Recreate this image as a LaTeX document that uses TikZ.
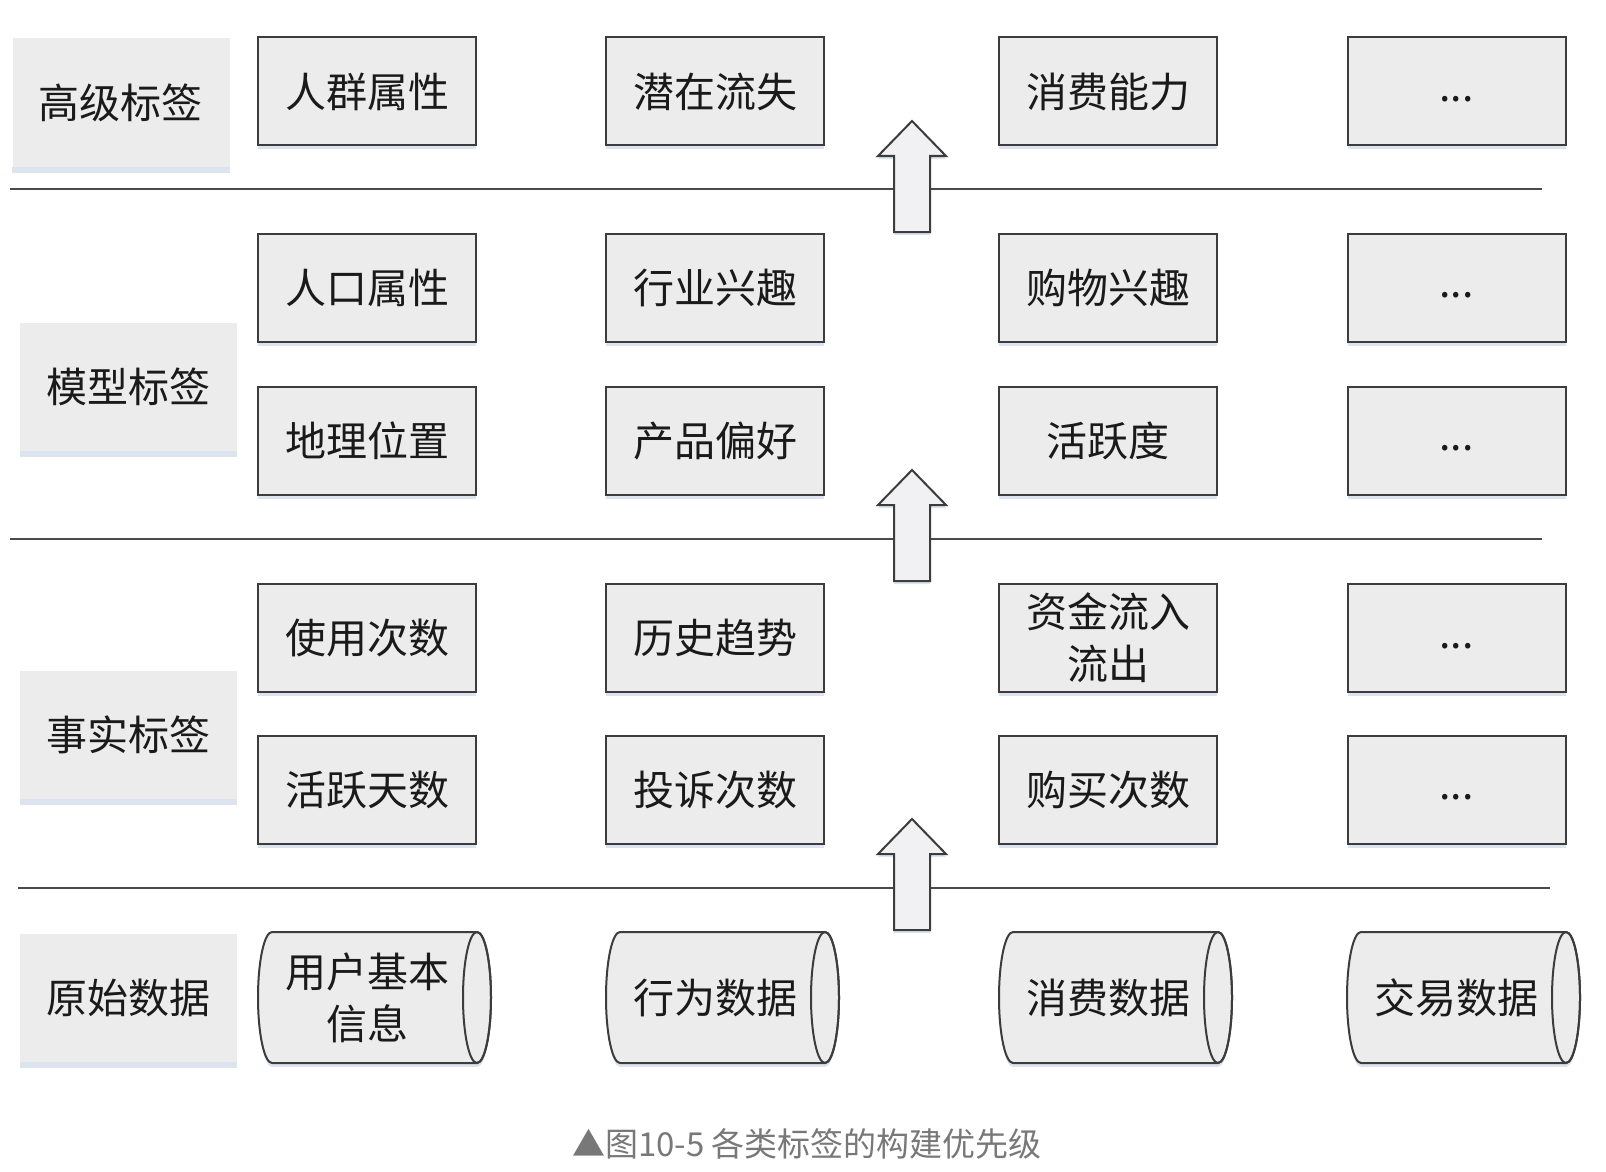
\documentclass[tikz,border=0pt]{standalone}
\usepackage{fontspec}
\setmainfont{Noto Sans CJK SC}
\usepackage{xcolor}
\usepackage{tikz}
\usetikzlibrary{shadows}
\definecolor{BoxFill} {HTML}{ECECEC}
\definecolor{BoxLine} {HTML}{3C3C3C}
\definecolor{Glow}    {HTML}{DCE5EF}
\definecolor{Rule}    {HTML}{4A4A4A}
\definecolor{ArrowBg} {HTML}{F1F1F3}
\definecolor{Caption} {HTML}{787878}
\definecolor{Ink}     {HTML}{1A1A1A}

\tikzset{
  tagbox/.style={draw=BoxLine, line width=1pt, fill=BoxFill,
        minimum width=109pt, minimum height=54pt, inner sep=0pt,
        font=\fontsize{20.5}{26}\selectfont, text=Ink, align=center,
        drop shadow={shadow xshift=0pt, shadow yshift=-2pt, fill=Glow, opacity=1}},
  levelbox/.style={fill=BoxFill, minimum width=108.5pt, minimum height=64pt,
        inner sep=0pt, font=\fontsize{20.5}{26}\selectfont, text=Ink},
  cyltext/.style={inner sep=0pt, font=\fontsize{20.5}{26}\selectfont,
        text=Ink, align=center},
  cylbody/.style={draw=BoxLine, line width=1pt, fill=BoxFill,
        drop shadow={shadow xshift=0pt, shadow yshift=-2pt, fill=Glow, opacity=1}},
  rule/.style={Rule, line width=1pt},
  uparrow/.style={draw=BoxLine, line width=1pt, fill=ArrowBg, line join=miter,
        drop shadow={shadow xshift=0pt, shadow yshift=-1.5pt, fill=Glow, opacity=1}}
}

\begin{document}
\begin{tikzpicture}[x=0.5pt, y=-0.5pt]
  \useasboundingbox (0,0) rectangle (1606,1172);
  % Level labels on the left
  \node[levelbox] (high)  at (121,102.5) {高级标签};
  \node[levelbox] (model) at (128.5,386.5) {模型标签};
  \node[levelbox] (fact)  at (128.5,734.5) {事实标签};
  \node[levelbox] (raw)   at (128.5,997.5) {原始数据};
  \foreach \lv in {high, model, fact, raw}
    \fill[Glow] (\lv.south west) rectangle ([yshift=-3pt]\lv.south east);

  % Separators between levels
  \draw[rule] (10,189) -- (1542,189);
  \draw[rule] (10,539) -- (1542,539);
  \draw[rule] (18,888) -- (1550,888);

  % High-level tags
  \node[tagbox] (crowd)   at (367,91.5)   {人群属性};
  \node[tagbox] (churn)   at (715,91.5)   {潜在流失};
  \node[tagbox] (spend)   at (1108,91.5)  {消费能力};
  \node[tagbox] (hmore)   at (1456.5,91.5) {\strut...};

  % Model tags
  \node[tagbox] (people)  at (367,287.5)  {人口属性};
  \node[tagbox] (trade)   at (715,287.5)  {行业兴趣};
  \node[tagbox] (shop)    at (1108,287.5) {购物兴趣};
  \node[tagbox] (mmoreA)  at (1456.5,287.5) {\strut...};
  \node[tagbox] (geo)     at (367,440.5)  {地理位置};
  \node[tagbox] (prefer)  at (715,440.5)  {产品偏好};
  \node[tagbox] (active)  at (1108,440.5) {活跃度};
  \node[tagbox] (mmoreB)  at (1456.5,440.5) {\strut...};

  % Fact tags
  \node[tagbox] (uses)    at (367,638)    {使用次数};
  \node[tagbox] (trend)   at (715,638)    {历史趋势};
  \node[tagbox] (flow)    at (1108,638)   {资金流入\\流出};
  \node[tagbox] (fmoreA)  at (1456.5,638) {\strut...};
  \node[tagbox] (days)    at (367,789.5)  {活跃天数};
  \node[tagbox] (claims)  at (715,789.5)  {投诉次数};
  \node[tagbox] (buys)    at (1108,789.5) {购买次数};
  \node[tagbox] (fmoreB)  at (1456.5,789.5) {\strut...};

  % Raw data stores (horizontal cylinders)
  \foreach \xl in {258, 606, 999, 1347} {
    \draw[cylbody] ({\xl+14},932) -- ({\xl+219},932)
      arc[start angle=-90, end angle=90, x radius=14, y radius=65.5]
      -- ({\xl+14},1063)
      arc[start angle=90, end angle=270, x radius=14, y radius=65.5] -- cycle;
    \draw[BoxLine, line width=1pt] ({\xl+219},997.5) ellipse[x radius=14, y radius=65.5];
  }
  \node[cyltext] (userinfo) at (367,997.5)  {用户基本\\信息};
  \node[cyltext] (behave)   at (715,997.5)  {行为数据};
  \node[cyltext] (consume)  at (1108,997.5) {消费数据};
  \node[cyltext] (deal)     at (1456,997.5) {交易数据};

  % Block arrows across the separators
  \foreach \ty in {121, 470, 819}
    \draw[uparrow] (894,{\ty+111}) -- (894,{\ty+35}) -- (878,{\ty+35})
      -- (912,\ty) -- (946,{\ty+35}) -- (930,{\ty+35}) -- (930,{\ty+111}) -- cycle;

  % Caption
  \node[font=\fontsize{16.5}{18}\selectfont, text=Caption] (caption)
        at (807,1144) {▲图10-5 各类标签的构建优先级};
\end{tikzpicture}
\end{document}
